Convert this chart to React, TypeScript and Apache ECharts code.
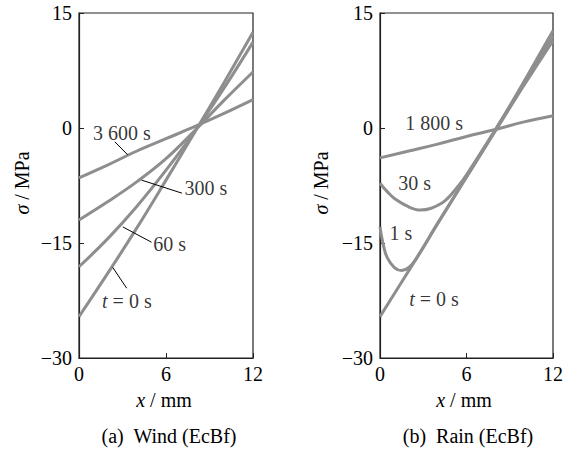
import React, { useEffect, useRef } from "react";
import * as echarts from "echarts";

// ---- data ----
const X_TICKS = [0, 6, 12];
const Y_TICKS = [-30, -15, 0, 15];

// Panel (a) Wind (EcBf)
const windT0 = [[0, -24.6], [2, -18.9], [4, -13.0], [6, -6.8], [8, -0.5], [10, 5.9], [12, 12.5]];
const wind60 = [[0, -18.1], [2, -14.4], [4, -10.2], [6, -5.5], [8, -0.4], [10, 5.2], [12, 11.2]];
const wind300 = [[0, -12.0], [2, -9.6], [4, -7.0], [6, -4.0], [8, -0.3], [10, 3.6], [12, 7.3]];
const wind3600 = [[0, -6.5], [2, -4.8], [4, -3.0], [6, -1.4], [8, 0.2], [10, 1.9], [12, 3.7]];

// Panel (b) Rain (EcBf)
const rainT0 = [[0, -24.6], [2, -18.6], [4, -12.5], [6, -6.4], [8, -0.3], [10, 6.1], [12, 12.7]];
const rain1 = [[0, -12.9], [0.25, -15.4], [0.5, -16.9], [1, -18.2], [1.5, -18.6], [2, -18.2], [2.5, -17.1], [4, -12.4], [6, -6.4], [8, -0.4], [10, 5.6], [12, 11.4]];
const rain30 = [[0, -7.2], [0.5, -8.3], [1, -9.2], [2, -10.3], [2.8, -10.7], [3.5, -10.5], [4.5, -9.5], [5.5, -7.4], [6, -6.1], [8, -0.2], [10, 5.8], [12, 12.0]];
const rain1800 = [[0, -3.9], [2, -3.0], [4, -2.1], [6, -1.1], [8, -0.2], [10, 0.8], [12, 1.6]];

// annotation labels [x, y, text]
const windLabels: [number, number, string][] = [
  [2.95, -0.6, "3 600 s"],
  [8.75, -7.8, "300 s"],
  [6.25, -15.1, "60 s"],
  [3.3, -22.5, "{i|t} = 0 s"],
];
const windLeaders: [number, number, number, number][] = [
  [2.47, -1.8, 3.36, -3.5],
  [4.32, -6.8, 7.1, -8.5],
  [3.02, -12.9, 5.0, -14.9],
  [2.33, -18.2, 3.29, -20.9],
];
const rainLabels: [number, number, string][] = [
  [3.75, 0.66, "1 800 s"],
  [2.4, -7.2, "30 s"],
  [1.45, -13.7, "1 s"],
  [3.75, -22.3, "{i|t} = 0 s"],
];

const FONT = "Times New Roman, Liberation Serif, serif";
const FS = 20;
const LINE_COLOR = "#8e8e8e";

export default function App() {
  const ref = useRef<HTMLDivElement>(null);
  useEffect(() => {
    if (!ref.current) return;
    const chart = echarts.init(ref.current, undefined, { renderer: "svg" });

    const fmt = (v: number) => (v < 0 ? "\u2212" + Math.abs(v) : String(v));
    const grids = [
      { left: 79, top: 13, width: 174, height: 345 },
      { left: 380, top: 13, width: 173, height: 345 },
    ];
    const xAxis = [0, 1].map((i) => ({
      type: "value" as const,
      gridIndex: i,
      min: X_TICKS[0],
      max: X_TICKS[X_TICKS.length - 1],
      interval: X_TICKS[1] - X_TICKS[0],
      axisLine: { show: true, onZero: false, lineStyle: { color: "#222", width: 1.2 } },
      axisTick: { show: true, inside: true, length: 5, lineStyle: { color: "#222" } },
      axisLabel: { color: "#000", fontFamily: FONT, fontSize: FS, margin: 6 },
      splitLine: { show: false },
    }));
    const yAxis = [0, 1].map((i) => ({
      type: "value" as const,
      gridIndex: i,
      min: Y_TICKS[0],
      max: Y_TICKS[Y_TICKS.length - 1],
      interval: Y_TICKS[1] - Y_TICKS[0],
      axisLine: { show: true, onZero: false, lineStyle: { color: "#222", width: 1.2 } },
      axisTick: { show: true, inside: true, length: 5, lineStyle: { color: "#222" } },
      axisLabel: { color: "#000", fontFamily: FONT, fontSize: FS, margin: 7, formatter: fmt },
      splitLine: { show: false },
    }));

    const curve = (data: number[][], i: number) => ({
      type: "line" as const,
      xAxisIndex: i,
      yAxisIndex: i,
      data,
      smooth: 0.4,
      showSymbol: false,
      symbol: "none",
      lineStyle: { color: LINE_COLOR, width: 3 },
      silent: true,
      z: 2,
    });
    const rich = { i: { fontStyle: "italic", fontFamily: FONT, fontSize: FS, color: "#000" } };
    const labelSeries = (labels: [number, number, string][], leaders: [number, number, number, number][], i: number) => ({
      type: "scatter" as const,
      xAxisIndex: i,
      yAxisIndex: i,
      symbolSize: 0,
      silent: true,
      z: 5,
      data: labels.map((l) => ({ value: [l[0], l[1]], name: l[2] })),
      label: {
        show: true,
        position: "inside",
        formatter: (p: any) => p.name,
        color: "#000",
        fontFamily: FONT,
        fontSize: FS,
        align: "center",
        verticalAlign: "middle",
        rich,
      },
      markLine: {
        silent: true,
        symbol: ["none", "none"],
        label: { show: false },
        lineStyle: { color: "#000", width: 1, type: "solid" },
        data: leaders.map((s) => [{ coord: [s[0], s[1]] }, { coord: [s[2], s[3]] }]),
      },
    });

    const textStyle = { fill: "#000", fontFamily: FONT, fontSize: FS };
    const grich = { i: { fontStyle: "italic", fontFamily: FONT, fontSize: FS, fill: "#000" } };

    chart.setOption({
      animation: false,
      grid: grids.map((g) => ({ ...g, show: true, borderColor: "#222", borderWidth: 1.2, backgroundColor: "transparent" })),
      xAxis,
      yAxis,
      series: [
        curve(windT0, 0),
        curve(wind60, 0),
        curve(wind300, 0),
        curve(wind3600, 0),
        curve(rainT0, 1),
        curve(rain1, 1),
        curve(rain30, 1),
        curve(rain1800, 1),
        labelSeries(windLabels, windLeaders, 0),
        labelSeries(rainLabels, [], 1),
      ],
      graphic: [
        { type: "text", x: 22, y: 183, rotation: Math.PI / 2, style: { ...textStyle, text: "{i|σ} / MPa", rich: grich, align: "center", verticalAlign: "middle" } },
        { type: "text", x: 321, y: 183, rotation: Math.PI / 2, style: { ...textStyle, text: "{i|σ} / MPa", rich: grich, align: "center", verticalAlign: "middle" } },
        { type: "text", x: 164, y: 400, style: { ...textStyle, text: "{i|x} / mm", rich: grich, align: "center", verticalAlign: "middle" } },
        { type: "text", x: 464, y: 400, style: { ...textStyle, text: "{i|x} / mm", rich: grich, align: "center", verticalAlign: "middle" } },
        { type: "text", x: 169, y: 436, style: { ...textStyle, text: "(a)  Wind (EcBf)", align: "center", verticalAlign: "middle" } },
        { type: "text", x: 468, y: 436, style: { ...textStyle, text: "(b)  Rain (EcBf)", align: "center", verticalAlign: "middle" } },
      ],
    });
    return () => chart.dispose();
  }, []);
  return <div ref={ref} style={{ position: "fixed", left: 0, top: 0, width: 577, height: 452, background: "#fff" }} />;
}
